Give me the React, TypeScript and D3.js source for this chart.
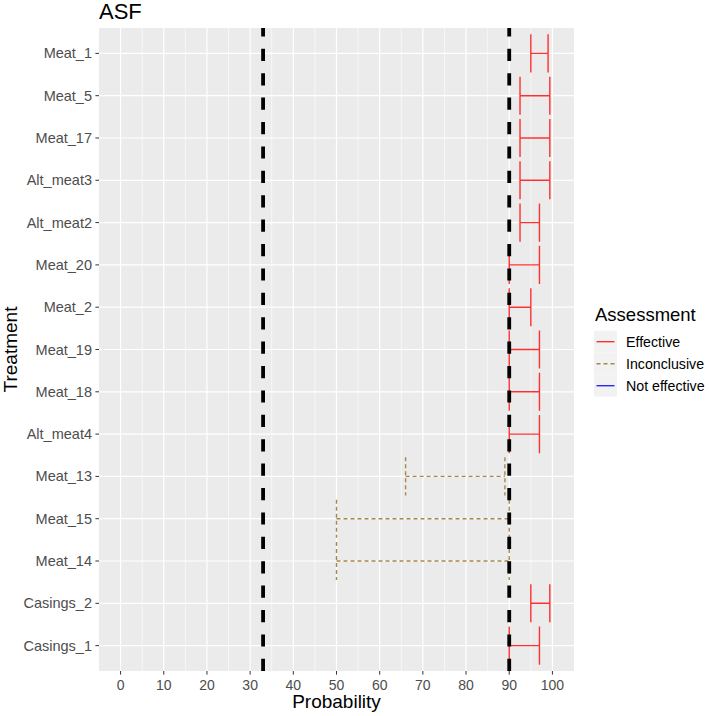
import React from "react";
import * as d3 from "d3";

const treatments = ["Meat_1","Meat_5","Meat_17","Alt_meat3","Alt_meat2","Meat_20","Meat_2","Meat_19","Meat_18","Alt_meat4","Meat_13","Meat_15","Meat_14","Casings_2","Casings_1"];
const lowerValues = [95, 92.5, 92.5, 92.5, 92.5, 90, 90, 90, 90, 90, 66, 50, 50, 95, 90];
const upperValues = [99, 99.4, 99.4, 99.4, 97, 97, 95, 97, 97, 97, 89, 90, 90, 99.4, 97];
const assessments = ["Effective","Effective","Effective","Effective","Effective","Effective","Effective","Effective","Effective","Effective","Inconclusive","Inconclusive","Inconclusive","Effective","Effective"];
const legendLevels = ["Effective","Inconclusive","Not effective"];
const thresholds = [33, 90];
const xTicks = [0,10,20,30,40,50,60,70,80,90,100];
const xMinor = [5,15,25,35,45,55,65,75,85,95];

const colorMap: Record<string,string> = { "Effective": "#FF3030", "Inconclusive": "#A8874E", "Not effective": "#2B2BF0" };
const dashMap: Record<string,string> = { "Effective": "none", "Inconclusive": "4 3", "Not effective": "none" };

const FONT = "'Liberation Sans', Arial, Helvetica, sans-serif";

export default function App() {
  const W = 709, H = 716;
  const left = 99, right = 574, top = 28, bottom = 671;
  const x = d3.scaleLinear().domain([-5, 105]).range([left, right]);
  const y = d3.scalePoint<string>().domain(treatments).range([top, bottom]).padding(0.6);
  const step = y.step();
  const capH = step * 0.9 / 2;

  return (
    <svg width={W} height={H} style={{ position: "absolute", left: 0, top: 0, background: "#fff" }} fontFamily={FONT}>
      <rect x={left} y={top} width={right - left} height={bottom - top} fill="#EBEBEB" />
      {xMinor.map(v => (
        <line key={"mn" + v} x1={x(v)} x2={x(v)} y1={top} y2={bottom} stroke="#fff" strokeWidth={0.6} />
      ))}
      {xTicks.map(v => (
        <line key={"mj" + v} x1={x(v)} x2={x(v)} y1={top} y2={bottom} stroke="#fff" strokeWidth={1.2} />
      ))}
      {treatments.map(t => (
        <line key={"gy" + t} x1={left} x2={right} y1={y(t)} y2={y(t)} stroke="#fff" strokeWidth={1.2} />
      ))}
      {treatments.map((t, i) => {
        const cy = y(t)!;
        const x0 = x(lowerValues[i]);
        const x1 = x(upperValues[i]);
        const d = `M${x0},${cy - capH}L${x0},${cy + capH}M${x0},${cy}L${x1},${cy}M${x1},${cy - capH}L${x1},${cy + capH}`;
        return (
          <path key={"eb" + t} d={d} fill="none" stroke={colorMap[assessments[i]]} strokeWidth={1.4}
            strokeDasharray={dashMap[assessments[i]]} />
        );
      })}
      {thresholds.map(v => (
        <line key={"th" + v} x1={x(v)} x2={x(v)} y1={bottom} y2={top} stroke="#000" strokeWidth={3.8}
          strokeDasharray="12.2 12.2" />
      ))}
      {/* y axis */}
      {treatments.map(t => (
        <g key={"yl" + t}>
          <line x1={left - 3.6} x2={left} y1={y(t)} y2={y(t)} stroke="#333" strokeWidth={1} />
          <text x={left - 7} y={y(t)} dy="0.35em" textAnchor="end" fontSize={14.5} fill="#4D4D4D">{t}</text>
        </g>
      ))}
      {/* x axis */}
      {xTicks.map(v => (
        <g key={"xl" + v}>
          <line x1={x(v)} x2={x(v)} y1={bottom} y2={bottom + 3.6} stroke="#333" strokeWidth={1} />
          <text x={x(v)} y={bottom + 18.5} textAnchor="middle" fontSize={14} fill="#4D4D4D">{v}</text>
        </g>
      ))}
      <text x={(left + right) / 2} y={708} textAnchor="middle" fontSize={19} fill="#000">Probability</text>
      <text transform={`translate(16.5,${(top + bottom) / 2}) rotate(-90)`} textAnchor="middle" fontSize={19} fill="#000">Treatment</text>
      <text x={left} y={19} fontSize={22} fill="#000">ASF</text>
      {/* legend */}
      <text x={595} y={321} fontSize={18.5} fill="#000">Assessment</text>
      {legendLevels.map((lv, i) => {
        const ky = 330.7 + i * 22;
        return (
          <g key={"lg" + lv}>
            <rect x={594} y={ky} width={23} height={22} fill="#F2F2F2" />
            <line x1={596.5} x2={614.5} y1={ky + 11} y2={ky + 11} stroke={colorMap[lv]} strokeWidth={1.4}
              strokeDasharray={dashMap[lv]} />
            <text x={626} y={ky + 11} dy="0.35em" fontSize={14.2} fill="#000">{lv}</text>
          </g>
        );
      })}
    </svg>
  );
}
